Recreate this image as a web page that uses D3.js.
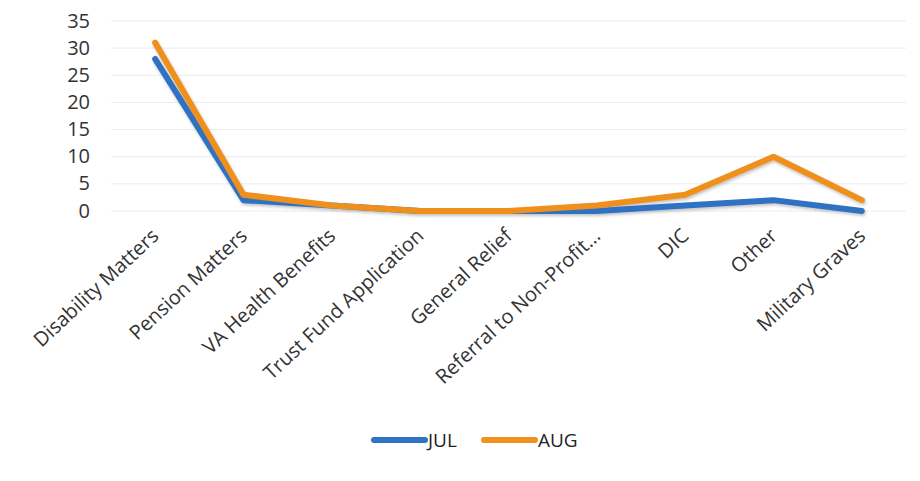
<!DOCTYPE html>
<html>
<meta charset="utf-8">
<head>
  <script src="https://d3js.org/d3.v7.min.js"></script>
  <style>
  body { margin: 0; background: #fff; }
  svg { font-family: "Open Sans", sans-serif; }
  .grid line { stroke: #ececec; stroke-width: 1px; }
  .legend text { font-size: 19px; fill: #222; }
  .series { fill: none; stroke-width: 6px; stroke-linejoin: round; stroke-linecap: round; }
  </style>
</head>
<body>
<div id="chart"></div>
<script>

var categories = ["Disability Matters", "Pension Matters", "VA Health Benefits",
  "Trust Fund Application", "General Relief", "Referral to Non-Profit...",
  "DIC", "Other", "Military Graves"]
var jul = [28, 2, 1, 0, 0, 0, 1, 2, 0]
var aug = [31, 3, 1, 0, 0, 1, 3, 10, 2]
var yTicks = [0, 5, 10, 15, 20, 25, 30, 35]
var seriesNames = ["JUL", "AUG"]
var seriesColors = ["#2f73c3", "#f0901e"]

var width = 920, height = 481

var svg = d3.select("#chart").append("svg")
    .attr("width", width)
    .attr("height", height)

// soft shadow like the scanned office chart
var f = svg.append("defs").append("filter")
    .attr("id", "shadow")
    .attr("x", "-5%").attr("y", "-5%").attr("width", "110%").attr("height", "120%")
f.append("feDropShadow")
    .attr("dx", 1).attr("dy", 2).attr("stdDeviation", 1.5)
    .attr("flood-color", "#555").attr("flood-opacity", 0.35)

var x = d3.scalePoint()
    .domain(categories)
    .range([111, 906])
    .padding(0.5)

var y = d3.scaleLinear()
    .domain([0, 35])
    .range([211, 21])

// gridlines
svg.append("g").attr("class", "grid")
  .selectAll("line").data(yTicks).enter()
  .append("line")
    .attr("x1", 111).attr("x2", 906)
    .attr("y1", function(d) { return y(d) }).attr("y2", function(d) { return y(d) })

// y labels
var yAxis = d3.axisLeft(y).tickValues(yTicks).tickSize(0).tickPadding(0)
var yg = svg.append("g")
    .attr("transform", "translate(90,0)")
    .call(yAxis)
    .attr("font-family", "'Open Sans', sans-serif")
    .attr("font-size", 20)
yg.select(".domain").remove()
yg.selectAll("text").attr("fill", "#333").attr("dy", "0.3em")

// x labels, rotated
var xAxis = d3.axisBottom(x).tickSize(0).tickPadding(0)
var xg = svg.append("g")
    .attr("transform", "translate(0,236)")
    .call(xAxis)
    .attr("font-family", "'Open Sans', sans-serif")
    .attr("font-size", 20)
xg.select(".domain").remove()
xg.selectAll("text")
    .attr("fill", "#333")
    .style("text-anchor", "end")
    .attr("y", 0)
    .attr("dy", "0.1em")
    .attr("transform", "translate(3,0) rotate(-43)")

// lines
var line = d3.line()
    .x(function(d, i) { return x(categories[i]) })
    .y(function(d) { return y(d) })

var data = [jul, aug]
svg.append("g").attr("filter", "url(#shadow)")
  .selectAll("path").data(data).enter()
  .append("path")
    .attr("class", "series")
    .attr("stroke", function(d, i) { return seriesColors[i] })
    .attr("d", line)

// legend
var leg = svg.append("g").attr("class", "legend")
  .selectAll("g").data(seriesNames).enter()
  .append("g")
    .attr("transform", function(d, i) { return "translate(" + (374 + i * 110) + ",440)" })
leg.append("line")
    .attr("x1", 0).attr("x2", 51).attr("y1", 0).attr("y2", 0)
    .attr("stroke", function(d, i) { return seriesColors[i] })
    .attr("stroke-width", 6).attr("stroke-linecap", "round")
leg.append("text")
    .attr("x", 54).attr("y", 0).attr("dy", "0.35em")
    .text(function(d) { return d })

</script>
</body>
</html>
